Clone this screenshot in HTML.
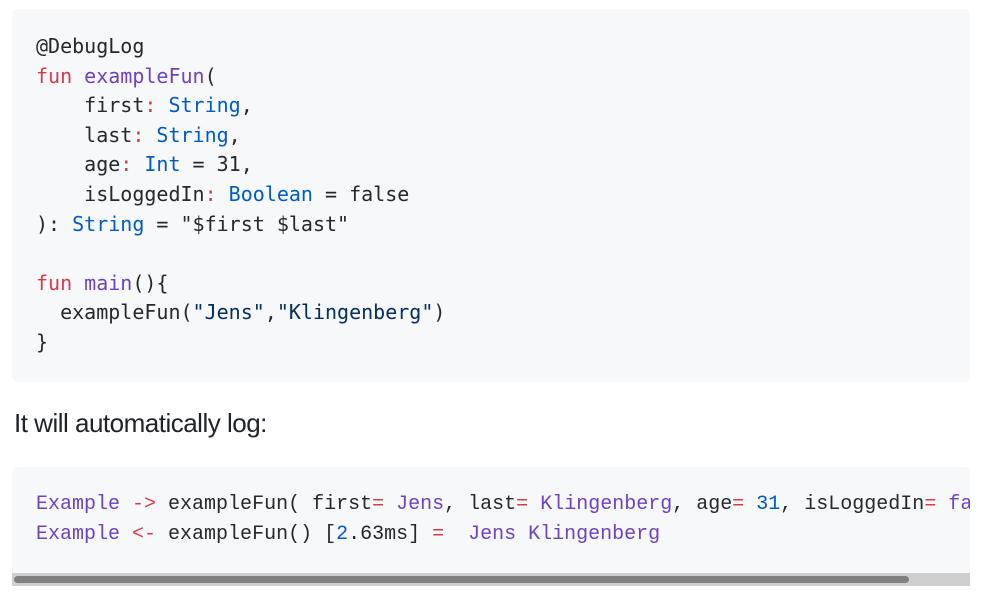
<!DOCTYPE html>
<html><head><meta charset="utf-8"><style>
html,body{margin:0;padding:0;background:#fff;width:992px;height:598px;overflow:hidden}
.box{position:absolute;left:12px;width:958px;background:#f6f8fa;border-radius:6px;overflow:hidden}
pre{margin:0;white-space:pre;color:#24292e}
#b1{top:9px;height:373px}
#b1 pre{position:absolute;left:24px;top:23px;font:20px/29.6px "DejaVu Sans Mono",monospace}
#b2{top:467px;height:119px;border-radius:6px 6px 0 0}
#b2 pre{position:absolute;left:24px;top:23px;font:20px/29.6px "Liberation Mono",monospace}
.k{color:#d73a49}.f{color:#6f42c1}.t{color:#005cc5}.s{color:#032f62}.n{color:#005cc5}
#p{position:absolute;left:14px;top:410px;font:26px/26px "Liberation Sans",sans-serif;color:#1f2328;letter-spacing:-0.5px;white-space:nowrap}
#track{position:absolute;left:12px;top:573px;width:958px;height:13px;background:#cfcfcf}
#thumb{position:absolute;left:14px;top:576px;width:895px;height:7px;background:#808080;border-radius:4px}
</style></head><body>
<div class="box" id="b1"><pre>@DebugLog
<span class="k">fun</span> <span class="f">exampleFun</span>(
    first<span class="k">:</span> <span class="t">String</span>,
    last<span class="k">:</span> <span class="t">String</span>,
    age<span class="k">:</span> <span class="t">Int</span> = 31,
    isLoggedIn<span class="k">:</span> <span class="t">Boolean</span> = false
): <span class="t">String</span> = "$first $last"

<span class="k">fun</span> <span class="f">main</span>(){
  exampleFun(<span class="s">"Jens"</span>,<span class="s">"Klingenberg"</span>)
}</pre></div>
<div id="p">It will automatically log:</div>
<div class="box" id="b2"><pre><span class="f">Example</span> <span class="k">-&gt;</span> exampleFun( first<span class="k">=</span> <span class="f">Jens</span>, last<span class="k">=</span> <span class="f">Klingenberg</span>, age<span class="k">=</span> <span class="n">31</span>, isLoggedIn<span class="k">=</span> <span class="f">false</span> )
<span class="f">Example</span> <span class="k">&lt;-</span> exampleFun() [<span class="n">2</span>.63ms] <span class="k">=</span>  <span class="f">Jens Klingenberg</span></pre></div>
<div id="track"></div><div id="thumb"></div>
</body></html>
